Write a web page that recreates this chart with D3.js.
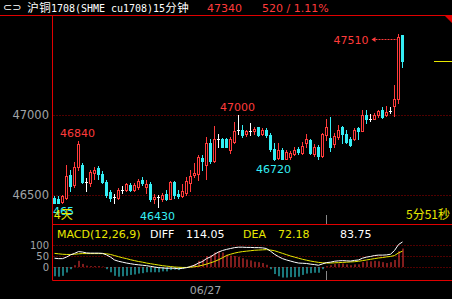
<!DOCTYPE html>
<html>
<head>
<meta charset="utf-8">
<script src="https://cdn.jsdelivr.net/npm/d3@7"></script>
<style>
  body { margin: 0; background: #000; overflow: hidden; }
  svg { display: block; }
</style>
</head>
<body>
<div id="chart"></div>
<script>
// 15 min bars, cu1708
const opens  = [46485,46480,46460,46485,46630,46565,46680,46690,46585,46575,46640,46670,46635,46585,46520,46490,46485,46535,46535,46565,46535,46550,46595,46555,46570,46480,46490,46480,46510,46480,46585,46510,46495,46515,46580,46625,46635,46735,46690,46825,46715,46850,46855,46850,46785,46835,46910,46910,46885,46905,46900,46925,46885,46910,46875,46790,46735,46785,46730,46740,46760,46790,46765,46830,46845,46760,46805,46745,46875,46860,46820,46865,46925,46885,46855,46850,46920,46900,47005,46980,46980,47000,47035,47000,47030,47055,47105,47500];
const highs  = [46495,46495,46500,46690,46660,46710,46840,46700,46610,46660,46680,46685,46650,46595,46535,46510,46545,46560,46575,46575,46575,46600,46615,46595,46585,46510,46500,46515,46535,46590,46590,46535,46570,46615,46660,46700,46750,46750,46865,46850,46935,46885,46860,46860,46865,46960,47000,46940,46910,46950,46930,46930,46920,46920,46890,46830,46830,46795,46785,46780,46800,46800,46835,46885,46850,46820,46815,46890,46980,46990,46890,46940,46935,46910,46865,46920,46925,47035,47035,47010,47015,47035,47050,47055,47050,47190,47510,47505];
const lows   = [46450,46450,46455,46480,46530,46550,46660,46575,46530,46560,46600,46605,46575,46490,46465,46455,46480,46515,46530,46530,46530,46540,46565,46515,46465,46455,46430,46465,46470,46475,46485,46485,46490,46500,46525,46615,46595,46660,46605,46700,46710,46800,46800,46800,46765,46825,46885,46865,46870,46880,46885,46870,46875,46865,46780,46720,46725,46725,46725,46725,46750,46760,46760,46805,46760,46745,46730,46740,46845,46780,46805,46850,46830,46830,46810,46845,46850,46900,46955,46965,46975,46990,46985,46995,47015,46995,47080,47300];
const closes = [46455,46455,46495,46620,46560,46680,46820,46585,46585,46645,46660,46635,46585,46500,46485,46490,46535,46535,46570,46535,46565,46590,46575,46570,46475,46490,46490,46500,46480,46585,46500,46495,46525,46590,46620,46640,46740,46715,46825,46715,46855,46850,46805,46805,46850,46900,46910,46875,46905,46905,46915,46880,46910,46875,46790,46730,46785,46730,46770,46765,46785,46770,46810,46855,46765,46800,46745,46885,46925,46800,46870,46910,46885,46835,46815,46910,46900,47005,46975,46980,47005,47030,46990,47020,47030,47105,47490,47340];

// MACD(12,26,9)
const diffVals = [40,38,38,45,55,62,70,68,64,63,63,63,62,55,45,32,26,22,18,15,12,10,8,6,3,0,-3,-4,-6,-5,-6,-8,-6,-3,2,8,18,25,38,46,58,68,75,80,84,88,90,90,89,89,88,88,87,84,72,58,47,38,32,27,22,18,17,16,13,11,8,14,20,22,26,28,29,28,27,30,32,40,45,48,52,54,54,55,58,75,102,114.05];
const deaVals  = [62,60,58,57,57,58,60,61,61,61,61,61,61,60,57,52,47,42,38,33,29,25,22,18,15,12,9,6,4,2,0,-1,-2,-2,-1,1,4,8,13,19,25,33,42,52,58,63,67,70,72,74,76,77,78,79,77,74,68,62,56,50,45,40,35,31,27,24,21,19,18,18,19,20,21,22,23,24,26,29,32,35,38,41,43,46,48,52,64,72.18];
const macdVals = [-42,-44,-40,-25,-10,8,28,14,6,4,4,4,2,-10,-24,-40,-44,-42,-40,-36,-34,-30,-28,-24,-24,-24,-24,-20,-20,-14,-12,-14,-8,-2,6,14,28,34,50,54,66,70,66,56,52,50,46,40,34,30,24,22,18,10,-10,-32,-42,-48,-48,-46,-46,-44,-36,-30,-28,-26,-26,-10,4,8,14,16,16,12,8,12,12,22,26,26,28,26,22,18,22,32,72,83.75];

const priceTicks = [46500, 47000];
const macdTicks = [0, 50, 100];
const hiLoMarks = [
  { i: 6,  p: 46840, kind: 'hi' },
  { i: 46, p: 47000, kind: 'hi' },
  { i: 26, p: 46430, kind: 'lo' },
  { i: 55, p: 46720, kind: 'lo' }
];
const maxMark = { i: 86, p: 47510 };
const lastPrice = 47340;
const dayTickIndex = 68;
const dateLabel = { i: 38, text: '06/27' };
const title = '沪铜1708(SHME cu1708)15分钟';

const RED = '#ff3b3b', CYAN = '#35eef5', LINE = '#e00000', GRID = '#a00000', GRAY = '#a0a4a8', YEL = '#e8e800';

const width = 452, height = 299;
const svg = d3.select('#chart').append('svg').attr('width', width).attr('height', height)
  .style('background', '#000');

const n = closes.length;
const x = d3.scaleBand().domain(d3.range(n)).range([52.5, 52.5 + 4 * n]);
const cx = i => x(i) + 2;
const y = d3.scaleLinear().domain([46500, 47000]).range([195.3, 115.3]);
const ym = d3.scaleLinear().domain([0, 100]).range([267, 245]);

// frame
const left = 52.5, mainTop = 15.5, mainBottom = 224.5, macdBottom = 280.5;
svg.append('line').attr('x1', 0).attr('x2', width).attr('y1', mainTop).attr('y2', mainTop).attr('stroke', LINE);
svg.append('line').attr('x1', left).attr('x2', left).attr('y1', mainTop).attr('y2', macdBottom).attr('stroke', LINE);
svg.append('line').attr('x1', left).attr('x2', width).attr('y1', mainBottom).attr('y2', mainBottom).attr('stroke', LINE);
svg.append('line').attr('x1', left).attr('x2', width).attr('y1', macdBottom).attr('y2', macdBottom).attr('stroke', LINE);
svg.append('path').attr('d', 'M444,15 L452,15 L452,23 Z').attr('fill', '#e00000');

// header: fixed-pitch layout like the terminal font, CJK 12px, latin 6px
const hdr = svg.append('g');
hdr.append('text').attr('x', 3).attr('y', 11).attr('fill', '#fff').style('font-family', 'DejaVu Sans').style('font-size', '11px').text('⊂⊃');
const chars = Array.from(title);
const isWide = ch => ch.charCodeAt(0) > 255;
const pos = [];
chars.reduce((acc, ch) => { pos.push(acc); return acc + (isWide(ch) ? 12 : 6); }, 27);
hdr.selectAll('.tc').data(chars).enter().append('text')
  .attr('x', (d, i) => pos[i] + (isWide(d) ? 6 : 3)).attr('y', 12).attr('text-anchor', 'middle')
  .style('font-family', d => isWide(d) ? '"Noto Sans CJK SC", sans-serif' : '"DejaVu Sans Mono", monospace')
  .style('font-size', d => isWide(d) ? '11.5px' : '10px')
  .attr('fill', '#fff').text(d => d);
hdr.append('text').attr('x', 207).attr('y', 12).attr('fill', RED).style('font-family', 'DejaVu Sans').style('font-size', '11px').text(d3.format('d')(lastPrice));
hdr.append('text').attr('x', 262).attr('y', 12).attr('fill', RED).style('font-family', 'DejaVu Sans').style('font-size', '11px').text('520 / 1.11%');

// price grid + labels
const axisFont = 'DejaVu Sans';
svg.selectAll('.pgrid').data(priceTicks).enter().append('line')
  .attr('x1', left + 1).attr('x2', width)
  .attr('y1', d => Math.round(y(d)) + 0.5).attr('y2', d => Math.round(y(d)) + 0.5)
  .attr('stroke', GRID).attr('stroke-dasharray', '1,2');
svg.selectAll('.plab').data(priceTicks).enter().append('text')
  .attr('x', 49).attr('y', d => y(d) + 4).attr('text-anchor', 'end')
  .attr('fill', GRAY).style('font-family', axisFont).style('font-size', '11.5px').text(d => d);

// candles
const candles = svg.append('g');
d3.range(n).forEach(i => {
  const o = opens[i], c = closes[i], h = highs[i], l = lows[i];
  const xc = cx(i);
  const col = c > o ? RED : (c < o ? CYAN : '#fff');
  const g = candles.append('g');
  g.append('line').attr('x1', xc).attr('x2', xc).attr('y1', Math.round(y(h))).attr('y2', Math.round(y(l)) + 1)
    .attr('stroke', col);
  const top = Math.round(y(Math.max(o, c))), bot = Math.round(y(Math.min(o, c)));
  if (c > o) {
    g.append('rect').attr('x', xc - 1).attr('y', top + 0.5).attr('width', 2).attr('height', Math.max(bot - top, 1))
      .attr('fill', '#000').attr('stroke', col);
  } else if (c < o) {
    g.append('rect').attr('x', xc - 1.5).attr('y', top).attr('width', 3).attr('height', Math.max(bot - top, 1) + 1)
      .attr('fill', col);
  } else {
    g.append('line').attr('x1', xc - 1.5).attr('x2', xc + 1.5).attr('y1', top + 0.5).attr('y2', top + 0.5).attr('stroke', col);
  }
});

// high / low labels
const lab = svg.append('g').style('font-family', axisFont).style('font-size', '11px').attr('text-anchor', 'middle');
hiLoMarks.forEach(m => {
  lab.append('text').attr('x', cx(m.i) - 1).attr('y', m.kind === 'hi' ? y(m.p) - 4 : y(m.p) + 13)
    .attr('fill', m.kind === 'hi' ? RED : CYAN).text(m.p);
});
const ay = Math.round(y(maxMark.p)) + 5.5;
lab.append('text').attr('x', cx(maxMark.i) - 30).attr('y', ay + 4).attr('text-anchor', 'end').attr('fill', RED).text(maxMark.p);
svg.append('line').attr('x1', cx(maxMark.i) - 26).attr('x2', cx(maxMark.i) - 1).attr('y1', ay).attr('y2', ay)
  .attr('stroke', RED).attr('stroke-dasharray', '2,1');
svg.append('path').attr('d', `M${cx(maxMark.i) - 27},${ay} l4,-2.5 l0,5 Z`).attr('fill', RED);

// last price marker on the right
svg.append('line').attr('x1', 434).attr('x2', width).attr('y1', Math.round(y(lastPrice)) + 0.5).attr('y2', Math.round(y(lastPrice)) + 0.5)
  .attr('stroke', YEL);

// countdown + bottom-left overlap text (overlapping in the original too)
svg.append('text').attr('x', 450).attr('y', 219).attr('text-anchor', 'end').attr('fill', YEL)
  .style('font-family', '"Noto Sans CJK SC", sans-serif').style('font-size', '12px').text('5分51秒');
svg.append('text').attr('x', 53).attr('y', 215).attr('fill', CYAN).style('font-family', axisFont).style('font-size', '11px').text('465');
svg.append('text').attr('x', 54).attr('y', 219).attr('fill', YEL).style('font-family', '"Noto Sans CJK SC", sans-serif').style('font-size', '12px').text('4天');

// day separator ticks
const tx = Math.round(cx(dayTickIndex)) - 0.5;
svg.append('line').attr('x1', tx).attr('x2', tx).attr('y1', 215).attr('y2', 224).attr('stroke', '#888');
svg.append('line').attr('x1', tx).attr('x2', tx).attr('y1', 271).attr('y2', 280).attr('stroke', '#888');

// MACD panel
svg.selectAll('.mgrid').data(macdTicks).enter().append('line')
  .attr('x1', left + 1).attr('x2', width)
  .attr('y1', d => Math.round(ym(d)) + 0.5).attr('y2', d => Math.round(ym(d)) + 0.5)
  .attr('stroke', GRID).attr('stroke-dasharray', '1,2');
svg.selectAll('.mlab').data(macdTicks).enter().append('text')
  .attr('x', 49).attr('y', d => ym(d) + 3.5).attr('text-anchor', 'end')
  .attr('fill', GRAY).style('font-family', axisFont).style('font-size', '10px').text(d => d);

svg.append('g').selectAll('line').data(macdVals).enter().append('line')
  .attr('x1', (d, i) => cx(i) + 0.5).attr('x2', (d, i) => cx(i) + 0.5)
  .attr('y1', ym(0)).attr('y2', d => ym(d))
  .attr('stroke', d => d >= 0 ? RED : CYAN);

const ln = d3.line().x((d, i) => cx(i)).y(d => ym(d));
svg.append('path').datum(deaVals).attr('d', ln).attr('fill', 'none').attr('stroke', YEL);
svg.append('path').datum(diffVals).attr('d', ln).attr('fill', 'none').attr('stroke', '#fff');

const mh = svg.append('g').style('font-family', axisFont).style('font-size', '11px');
const hy = 237.5;
mh.append('text').attr('x', 57).attr('y', hy).attr('fill', YEL).text('MACD(12,26,9)');
mh.append('text').attr('x', 150).attr('y', hy).attr('fill', '#fff').text('DIFF');
mh.append('text').attr('x', 186).attr('y', hy).attr('fill', '#fff').text(diffVals[n - 1].toFixed(2));
mh.append('text').attr('x', 243).attr('y', hy).attr('fill', YEL).text('DEA');
mh.append('text').attr('x', 278).attr('y', hy).attr('fill', YEL).text(deaVals[n - 1].toFixed(2));
mh.append('text').attr('x', 340).attr('y', hy).attr('fill', '#fff').text(macdVals[n - 1].toFixed(2));

// date
svg.append('text').attr('x', cx(dateLabel.i) - 1).attr('y', 294).attr('text-anchor', 'middle')
  .attr('fill', GRAY).style('font-family', axisFont).style('font-size', '11px').text(dateLabel.text);
</script>
</body>
</html>
